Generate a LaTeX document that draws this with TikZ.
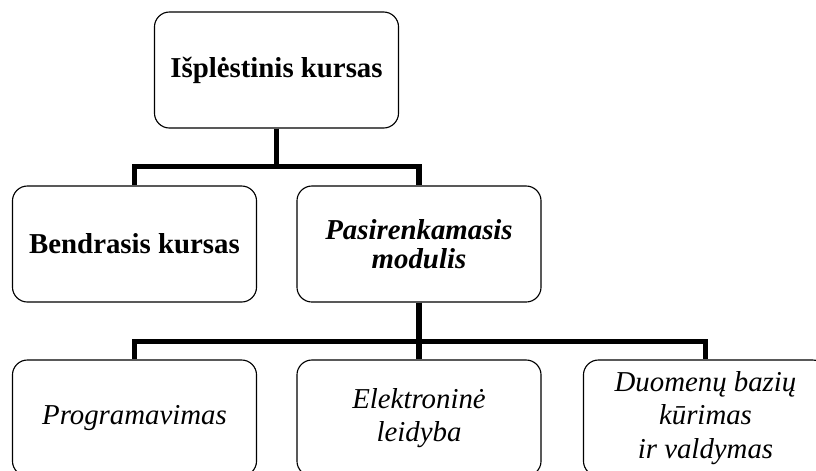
\documentclass[tikz,border=0pt]{standalone}
\usepackage{fontspec}
\setmainfont{Liberation Serif}

\tikzset{
  kursas/.style={draw, line width=0.8pt, rounded corners=0.375cm,
    minimum width=6.1cm, minimum height=2.9cm, align=center, inner sep=2pt},
  pagrindinis/.style={kursas, font=\fontsize{20.5}{23.6}\selectfont\bfseries},
  modulinis/.style={kursas, font=\fontsize{20.5}{20.5}\selectfont\bfseries\itshape},
  dalykas/.style={kursas, font=\fontsize{20.5}{23.6}\selectfont\itshape},
  jungtis/.style={line width=3.6pt},
}

\begin{document}
\begin{tikzpicture}[x=0.025cm, y=-0.025cm]
\useasboundingbox (0,0) rectangle (816,470);
\clip (0,0) rectangle (816,470);

% --- Top level ---
\node[pagrindinis] (isplestinis) at (276.5,70) {Išplėstinis kursas};

% --- Second level ---
\node[pagrindinis] (bendrasis) at (134.5,244) {Bendrasis kursas};
\node[modulinis] (pasirenkamasis) at (419,244) {Pasirenkamasis\\modulis};

% --- Modules ---
\node[dalykas] (programavimas) at (134.5,418) {Programavimas};
\node[dalykas] (elektronine) at (419,418) {Elektroninė\\leidyba};
\node[dalykas] (duomenu) at (705.5,418) {Duomenų bazių\\kūrimas\\ir valdymas};

% --- Connectors ---
\draw[jungtis] (isplestinis.south) -- ++(0,38) -| (bendrasis.north);
\draw[jungtis] (isplestinis.south) -- ++(0,38) -| (pasirenkamasis.north);

\draw[jungtis] (pasirenkamasis.south) -- (elektronine.north);
\draw[jungtis] (pasirenkamasis.south) -- ++(0,39) -| (programavimas.north);
\draw[jungtis] (pasirenkamasis.south) -- ++(0,39) -| (duomenu.north);
\end{tikzpicture}
\end{document}
